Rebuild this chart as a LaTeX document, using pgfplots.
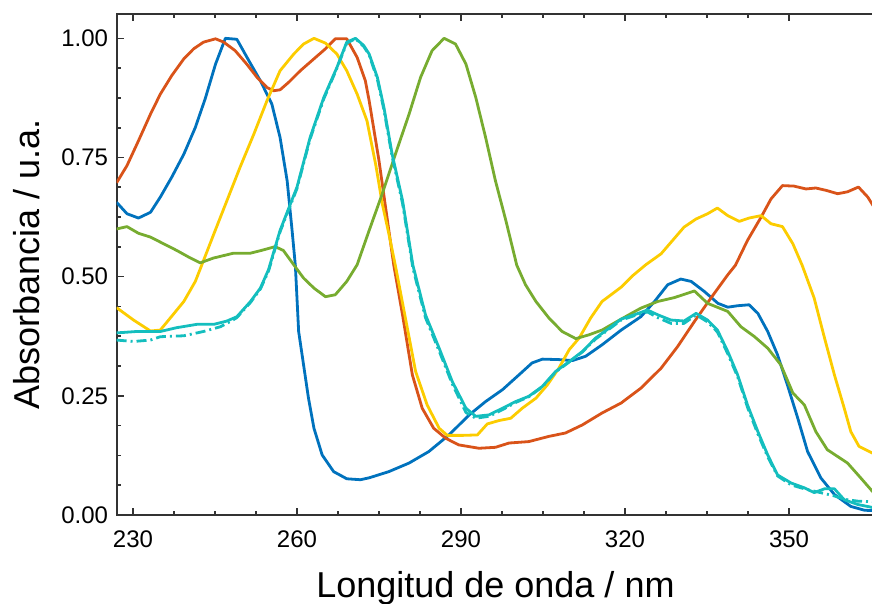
\documentclass[border=0pt]{standalone}
\usepackage{pgfplots}
\pgfplotsset{compat=1.18}
\usepackage{fontspec}
\setmainfont{Liberation Sans}
\definecolor{cBlue}{RGB}{0,114,189}
\definecolor{cOrange}{RGB}{217,83,25}
\definecolor{cYellow}{RGB}{252,204,0}
\definecolor{cGreen}{RGB}{119,172,48}
\definecolor{cCyan}{RGB}{20,190,190}
\definecolor{frameC}{RGB}{51,51,51}
\begin{document}
\begin{tikzpicture}
\begin{axis}[
 scale only axis,
 width=757.7pt, height=500.5pt,
 xmin=227, xmax=365.6, ymin=0, ymax=1.05,
 xtick={230,260,290,320,350},
 ytick={0,0.25,0.5,0.75,1},
 minor x tick num=3, minor y tick num=3,
 tick align=inside, ytick pos=left,
 major tick length=7pt, minor tick length=4pt,
 every tick/.style={frameC, line width=1.6pt},
 axis line style={frameC, line width=2pt},
 yticklabel style={/pgf/number format/fixed, /pgf/number format/fixed zerofill, /pgf/number format/precision=2, xshift=-5pt},
 xticklabel style={yshift=-12pt},
 /pgf/number format/assume math mode=true,
 tick label style={font=\fontsize{24}{24}\selectfont},
 xlabel={Longitud de onda / nm},
 ylabel={Absorbancia / u.a.},
 label style={font=\fontsize{36}{36}\selectfont},
 xlabel style={at={([yshift=-82pt]axis description cs:0.5,0)}, anchor=base},
 ylabel style={at={([xshift=-77pt]axis description cs:0,0.5)}, anchor=base},
 every axis plot/.append style={line width=2.8pt, line join=round},
]
% blue
\addplot[cBlue] coordinates {
(227.0,0.656)(228.9,0.632)(231.0,0.623)(233.2,0.635)(235.0,0.667)(237.1,0.709)
(239.3,0.757)(241.4,0.813)(243.2,0.873)(245.1,0.946)(246.9,1.000)(249.0,0.998)
(251.2,0.953)(253.3,0.911)(255.4,0.862)(256.9,0.792)(258.2,0.701)(259.1,0.597)
(259.7,0.523)(260.3,0.385)(261.2,0.315)(262.1,0.245)(263.1,0.182)(264.6,0.126)
(266.7,0.091)(269.1,0.076)(271.6,0.074)(273.2,0.078)(276.8,0.091)(280.5,0.109)
(284.1,0.133)(287.8,0.168)(291.5,0.210)(294.5,0.238)(297.6,0.263)(300.6,0.294)
(303.0,0.319)(304.9,0.327)(307.9,0.326)(310.4,0.324)(312.8,0.333)(315.8,0.357)
(319.3,0.388)(322.9,0.416)(325.4,0.448)(327.8,0.483)(330.2,0.495)(332.1,0.490)
(334.5,0.469)(337.0,0.444)(338.8,0.436)(340.6,0.439)(342.7,0.441)(344.3,0.423)
(346.1,0.385)(347.9,0.336)(349.7,0.273)(351.6,0.203)(353.4,0.133)(355.8,0.078)
(358.3,0.043)(361.3,0.018)(363.8,0.010)(365.6,0.009)};
% orange
\addplot[cOrange] coordinates {
(227.0,0.697)(228.9,0.733)(231.0,0.785)(233.2,0.841)(235.0,0.883)(237.1,0.922)
(239.3,0.957)(241.1,0.978)(242.9,0.992)(245.1,0.999)(246.6,0.992)(248.7,0.974)
(250.8,0.946)(252.7,0.918)(254.5,0.897)(255.7,0.890)(256.9,0.892)(258.5,0.908)
(260.6,0.932)(263.1,0.957)(265.2,0.978)(267.0,0.999)(269.1,0.999)(271.0,0.960)
(272.5,0.911)(273.2,0.869)(275.0,0.743)(277.7,0.524)(279.3,0.420)(281.1,0.294)
(282.9,0.224)(285.0,0.182)(287.2,0.161)(289.6,0.147)(293.3,0.140)(296.3,0.142)
(298.8,0.151)(302.4,0.154)(306.1,0.165)(309.1,0.172)(312.2,0.189)(315.8,0.214)
(319.3,0.235)(322.9,0.266)(326.6,0.308)(329.6,0.353)(332.7,0.406)(335.7,0.455)
(338.8,0.504)(340.2,0.524)(342.4,0.576)(344.9,0.625)(346.7,0.663)(348.8,0.691)
(350.9,0.690)(353.1,0.684)(354.9,0.686)(356.8,0.681)(358.9,0.674)(360.7,0.678)
(362.7,0.688)(364.4,0.667)(365.6,0.645)};
% yellow
\addplot[cYellow] coordinates {
(227.0,0.435)(230.1,0.409)(233.2,0.386)(235.0,0.388)(236.8,0.413)(239.3,0.448)
(241.4,0.490)(242.6,0.525)(244.8,0.590)(247.2,0.660)(249.6,0.730)(252.1,0.799)
(254.5,0.869)(256.9,0.932)(259.4,0.967)(261.2,0.988)(263.1,1.000)(265.2,0.990)
(267.3,0.967)(269.1,0.932)(271.0,0.883)(272.8,0.827)(274.4,0.735)(275.6,0.653)
(276.8,0.590)(278.0,0.523)(279.6,0.427)(281.7,0.301)(283.8,0.231)(286.0,0.182)
(287.5,0.167)(290.2,0.167)(293.0,0.168)(294.8,0.191)(296.9,0.198)(299.1,0.203)
(301.2,0.224)(303.7,0.245)(305.8,0.273)(307.9,0.308)(309.8,0.347)(311.6,0.371)
(313.7,0.413)(315.8,0.448)(319.3,0.478)(321.5,0.503)(323.8,0.525)(326.6,0.548)
(328.7,0.576)(330.8,0.604)(333.0,0.621)(335.1,0.632)(336.9,0.644)(338.8,0.628)
(340.9,0.616)(342.7,0.623)(344.9,0.628)(346.7,0.611)(348.8,0.605)(350.7,0.569)
(352.4,0.524)(354.6,0.455)(356.5,0.371)(358.3,0.294)(360.1,0.224)(361.3,0.175)
(362.8,0.144)(365.6,0.128)};
% green
\addplot[cGreen] coordinates {
(227.0,0.600)(228.9,0.605)(231.0,0.591)(233.2,0.583)(235.6,0.569)(238.0,0.555)
(240.2,0.541)(242.3,0.529)(244.7,0.539)(248.3,0.549)(251.4,0.549)(253.8,0.556)
(256.0,0.563)(257.5,0.555)(259.4,0.525)(261.2,0.497)(263.1,0.476)(265.2,0.458)
(267.0,0.462)(269.1,0.490)(271.0,0.525)(273.2,0.597)(275.6,0.674)(278.0,0.757)
(280.5,0.841)(282.6,0.918)(284.7,0.974)(286.9,1.000)(289.0,0.988)(290.9,0.946)
(292.7,0.876)(294.5,0.792)(296.3,0.701)(298.2,0.618)(300.2,0.524)(301.8,0.483)
(303.7,0.448)(306.1,0.413)(308.5,0.385)(311.0,0.370)(313.4,0.378)(315.8,0.388)
(319.3,0.411)(322.9,0.434)(326.0,0.448)(329.0,0.456)(332.7,0.470)(335.1,0.444)
(338.8,0.427)(341.2,0.395)(343.7,0.374)(346.1,0.350)(348.5,0.315)(350.7,0.256)
(352.8,0.231)(354.9,0.175)(357.0,0.137)(360.7,0.109)(363.1,0.078)(365.6,0.045)};
% cyan dash-dot
\addplot[cCyan, dash pattern=on 10pt off 4pt on 2pt off 4pt] coordinates {
(227.0,0.367)(230.1,0.364)(233.2,0.367)(235.0,0.374)(239.3,0.376)(242.9,0.385)
(246.0,0.395)(247.8,0.406)(249.0,0.414)(251.5,0.446)(253.3,0.474)(254.8,0.512)
(256.9,0.594)(260.0,0.685)(262.4,0.789)(264.9,0.873)(267.3,0.937)(269.1,0.990)
(270.7,0.999)(272.2,0.983)(273.2,0.965)(274.7,0.914)(275.9,0.850)(277.4,0.752)
(279.3,0.654)(281.2,0.518)(283.5,0.414)(286.0,0.344)(288.4,0.275)(290.9,0.215)
(292.7,0.203)(295.1,0.207)(297.6,0.221)(300.0,0.236)(302.4,0.248)(304.9,0.269)
(307.3,0.300)(309.8,0.321)(312.2,0.342)(314.6,0.369)(317.1,0.390)(319.3,0.409)
(321.7,0.418)(324.1,0.426)(326.0,0.414)(328.4,0.402)(330.8,0.402)(333.0,0.420)
(335.1,0.405)(336.9,0.384)(338.8,0.338)(340.6,0.290)(342.4,0.226)(344.3,0.170)
(346.1,0.122)(347.9,0.082)(350.4,0.063)(352.8,0.055)(354.6,0.050)(356.5,0.045)
(358.3,0.040)(360.1,0.033)(362.6,0.029)(365.6,0.028)};
% cyan solid
\addplot[cCyan] coordinates {
(227.0,0.382)(230.7,0.385)(235.0,0.385)(238.0,0.393)(241.7,0.400)(244.8,0.400)
(247.2,0.407)(249.0,0.416)(251.5,0.448)(253.3,0.476)(254.8,0.515)(256.9,0.597)
(260.0,0.688)(262.4,0.792)(264.9,0.876)(267.3,0.939)(269.1,0.992)(270.7,1.000)
(272.2,0.985)(273.2,0.967)(274.7,0.918)(275.9,0.855)(277.4,0.757)(279.3,0.660)
(281.2,0.524)(283.5,0.420)(286.0,0.350)(288.4,0.280)(290.9,0.224)(292.7,0.207)
(295.1,0.210)(297.6,0.224)(300.0,0.238)(302.4,0.249)(304.9,0.270)(307.3,0.301)
(309.8,0.322)(312.2,0.343)(314.6,0.371)(317.1,0.392)(319.3,0.411)(321.7,0.420)
(324.1,0.430)(326.0,0.420)(328.4,0.409)(330.8,0.407)(333.0,0.423)(335.1,0.409)
(336.9,0.388)(338.8,0.343)(340.6,0.294)(342.4,0.231)(344.3,0.175)(346.1,0.126)
(347.9,0.084)(350.4,0.067)(352.8,0.057)(354.6,0.047)(356.5,0.055)(358.3,0.055)
(360.1,0.032)(362.6,0.022)(365.6,0.015)};
\end{axis}
\pgfresetboundingbox
\useasboundingbox (-116.6pt,-89pt) rectangle (755.4pt,515pt);
\end{tikzpicture}
\end{document}
